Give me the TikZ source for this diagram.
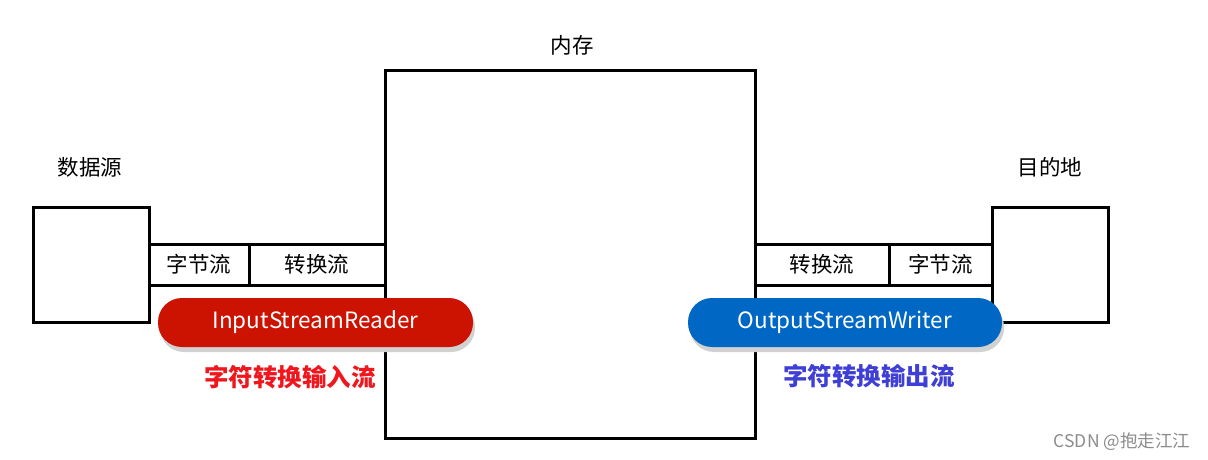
\documentclass[tikz,border=0pt]{standalone}
\usepackage{fontspec}
\setmainfont{Noto Sans CJK SC}
\newfontfamily\cjk{Noto Sans CJK SC}
\definecolor{pillred}{HTML}{CC1200}
\definecolor{pillblue}{HTML}{0068C4}
\definecolor{txtred}{HTML}{F0161E}
\definecolor{txtblue}{HTML}{3F3FD6}
\begin{document}
\begin{tikzpicture}[x=1pt,y=-1pt,
  box/.style={draw=black,line width=3pt,fill=white},
  cell/.style={draw=black,line width=3pt,fill=white,font=\cjk\fontsize{21.5}{24}\selectfont,inner sep=0pt},
  lbl/.style={font=\cjk\fontsize{21.5}{24}\selectfont,text=black},
  pill/.style={rounded corners=24pt,inner sep=0pt,text=white,font=\cjk\fontsize{22.5}{26}\selectfont},
  shadowpill/.style={fill=black!18,rounded corners=24pt},
  big/.style={font=\cjk\bfseries\fontsize{24.5}{28}\selectfont}]
\useasboundingbox (0,0) rectangle (1208,460);
\fill[white] (0,0) rectangle (1208,460);
% memory
\draw[box] (385,71) rectangle (755,438);
\node[lbl] (memlbl) at (572,45) {内存};
% source
\draw[box] (33,207) rectangle (149,322);
\node[lbl] (srclbl) at (90,167) {数据源};
% destination
\draw[box] (992,207) rectangle (1108,322);
\node[lbl] (dstlbl) at (1050,167) {目的地};
% left stream bar
\node[cell,minimum width=100pt,minimum height=41pt] (lb) at (199,264.5) {字节流};
\node[cell,minimum width=136pt,minimum height=41pt] (lc) at (317,264.5) {转换流};
% right stream bar
\node[cell,minimum width=134pt,minimum height=41pt] (rc) at (822,264.5) {转换流};
\node[cell,minimum width=103pt,minimum height=41pt] (rb) at (940.5,264.5) {字节流};
% pills
\fill[shadowpill] (160,303) rectangle (475,352);
\node[pill,fill=pillred,minimum width=315pt,minimum height=49pt] (inr) at (315.5,322.5) {InputStreamReader};
\fill[shadowpill] (690,303) rectangle (1004,352);
\node[pill,fill=pillblue,minimum width=314pt,minimum height=49pt] (outw) at (845,322.5) {OutputStreamWriter};
% captions
\node[big,text=txtred] (incap) at (290,377) {字符转换输入流};
\node[big,text=txtblue] (outcap) at (869,376) {字符转换输出流};
% watermark
\node[font=\cjk\fontsize{17.5}{19}\selectfont,text=black!45] (wm) at (1122,442) {CSDN @抱走江江};
\end{tikzpicture}
\end{document}
